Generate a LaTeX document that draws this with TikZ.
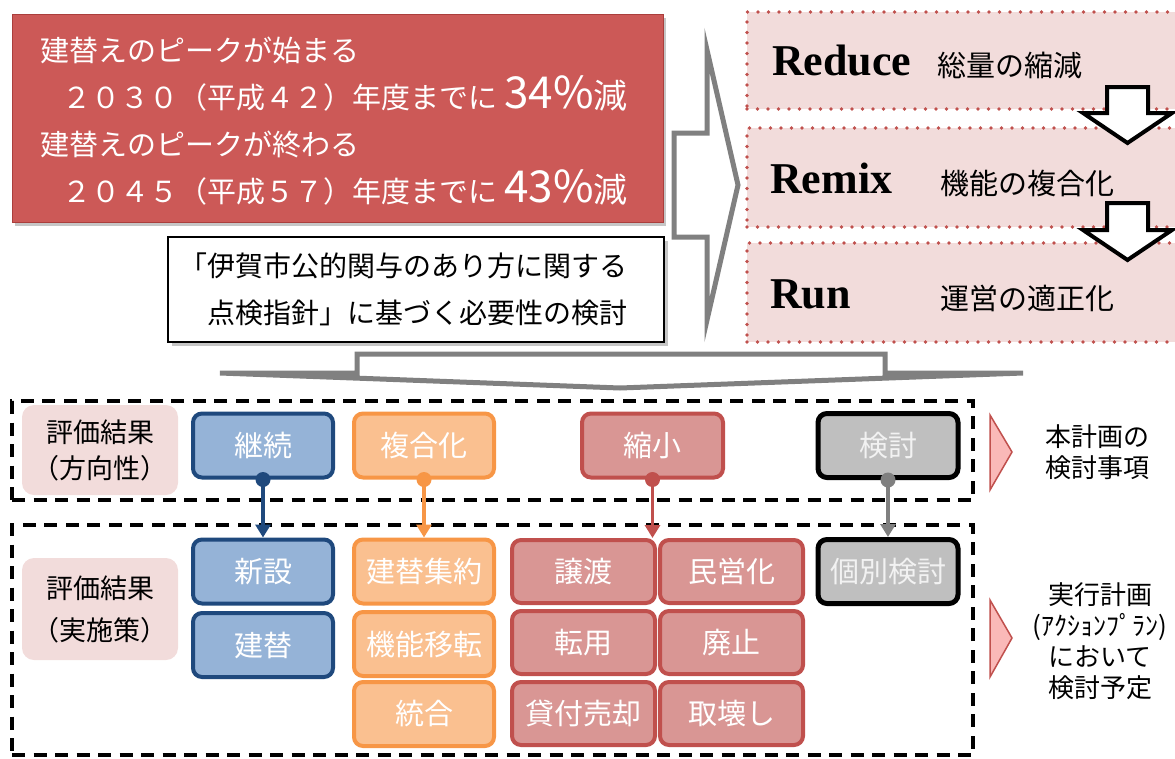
\documentclass[tikz,border=0pt]{standalone}
\usepackage{fontspec}
\newfontfamily\cjk{Noto Sans CJK JP}
\newfontfamily\rserif{Liberation Serif}
\usetikzlibrary{shadows,arrows.meta}
\definecolor{redbox}{RGB}{204,89,87}
\definecolor{redboxedge}{RGB}{170,62,60}
\definecolor{pinkbg}{RGB}{242,220,219}
\definecolor{dotred}{RGB}{192,80,77}
\definecolor{bluefill}{RGB}{149,179,215}
\definecolor{blueline}{RGB}{31,73,125}
\definecolor{orfill}{RGB}{250,192,144}
\definecolor{orline}{RGB}{247,150,70}
\definecolor{rdfill}{RGB}{217,150,148}
\definecolor{rdline}{RGB}{192,80,77}
\definecolor{gyfill}{RGB}{191,191,191}
\definecolor{gyline}{RGB}{128,128,128}
\definecolor{gytext}{RGB}{242,242,242}
\definecolor{trifill}{RGB}{250,185,184}
\begin{document}
\begin{tikzpicture}[x=1pt,y=-1pt,
  cbox/.style={rounded corners=9pt, line width=4pt, minimum width=140pt, minimum height=64pt,
    inner sep=0pt, text=white, font=\cjk\fontsize{29}{34}\selectfont},
  bluebox/.style={cbox, draw=blueline, fill=bluefill},
  orbox/.style={cbox, draw=orline, fill=orfill},
  rdbox/.style={cbox, draw=rdline, fill=rdfill, minimum width=143pt, minimum height=63pt},
  gybox/.style={cbox, draw=black, fill=gyfill, line width=5pt, text=gytext},
  lblbox/.style={rounded corners=12pt, fill=pinkbg, minimum width=156pt, align=center, inner sep=0pt},
  dashframe/.style={draw=black, line width=3.5pt, dash pattern=on 13pt off 8.5pt, minimum width=961pt, inner sep=0pt},
  dotbox/.style={draw=dotred, fill=pinkbg, line width=3.8pt, dash pattern=on 0pt off 10.5pt, line cap=round, minimum width=440pt, inner sep=0pt},
  rword/.style={anchor=base west, inner sep=0pt, font=\rserif\bfseries\fontsize{44}{50}\selectfont},
  jword/.style={anchor=west, inner sep=0pt, font=\cjk\fontsize{29}{34}\selectfont},
  grayarrow/.style={draw=gyline, fill=white, line width=5pt, line join=miter},
  whitearrow/.style={draw=black, fill=white, line width=4pt, line join=miter},
  conn/.style={line width=3.5pt, -{Triangle[length=13pt,width=15pt]}},
  tri/.style={draw=dotred, fill=trifill, line width=1.5pt, line join=miter},
  sidetext/.style={align=center, inner sep=0pt, font=\cjk\fontsize{26}{31}\selectfont}
]
\useasboundingbox (0,0) rectangle (1175,758);

% top-left red box
\node[draw=redboxedge, fill=redbox, line width=1pt, minimum width=651pt, minimum height=208pt,
  drop shadow={shadow xshift=3pt, shadow yshift=-4pt, opacity=0.45}] (peakbox) at (337.5,118) {};
\node[anchor=west, inner sep=0pt, align=left, text=white, font=\cjk\fontsize{29}{47}\selectfont] (peaktext) at (40,121)
 {建替えのピークが始まる\\
  \hspace*{22pt}２０３０（平成４２）年度までに\hspace{7pt}{\fontsize{44}{47}\selectfont 34\%}{\fontsize{34}{47}\selectfont 減}\\
  建替えのピークが終わる\\
  \hspace*{22pt}２０４５（平成５７）年度までに\hspace{7pt}{\fontsize{44}{47}\selectfont 43\%}{\fontsize{34}{47}\selectfont 減}};

% white box
\node[draw=black, fill=white, line width=2.5pt, minimum width=496pt, minimum height=105pt,
  text width=474pt, inner xsep=11pt, align=left, font=\cjk\fontsize{28}{47}\selectfont,
  drop shadow={shadow xshift=4pt, shadow yshift=-4pt, opacity=0.45}] (shishin) at (416,289.5)
 {「伊賀市公的関与のあり方に関する\\　点検指針」に基づく必要性の検討};

% big right arrow
\draw[grayarrow] (674,133) -- (707,133) -- (707,50) -- (738,185) -- (707,320) -- (707,237) -- (674,237) -- cycle;

% dotted boxes
\node[dotbox, minimum height=97pt] (reducebox) at (967,60.5) {};
\node[dotbox, minimum height=99pt] (remixbox) at (967,177.5) {};
\node[dotbox, minimum height=99pt] (runbox) at (967,292.5) {};

\node[rword] (reduce) at (772,75) {Reduce};
\node[jword] (reducej) at (937,65) {総量の縮減};
\node[rword] (remix) at (770,193) {Remix};
\node[jword] (remixj) at (940,183) {機能の複合化};
\node[rword] (run) at (770,308) {Run};
\node[jword] (runj) at (940,298) {運営の適正化};

% small down arrows
\draw[whitearrow] (1107,87) -- (1148,87) -- (1148,113) -- (1172,113) -- (1127.5,143) -- (1083,113) -- (1107,113) -- cycle;
\draw[whitearrow] (1107,203) -- (1148,203) -- (1148,230) -- (1172,230) -- (1127.5,260) -- (1083,230) -- (1107,230) -- cycle;

% wide down arrow
\draw[grayarrow] (357,354) -- (885,354) -- (885,373) -- (1023,373) -- (620,388) -- (220,373) -- (357,373) -- cycle;

% dashed frames
\node[dashframe, minimum height=99pt] (frameA) at (492.5,450.5) {};
\node[dashframe, minimum height=230pt] (frameB) at (492.5,640) {};

% labels
\node[lblbox, minimum height=90pt, font=\cjk\fontsize{27}{36}\selectfont] (lblA) at (100,450) {評価結果\\（方向性）};
\node[lblbox, minimum height=102pt, font=\cjk\fontsize{27}{42}\selectfont] (lblB) at (100,609) {評価結果\\（実施策）};

% direction boxes
\node[bluebox] (keizoku) at (263,445.5) {継続};
\node[orbox] (fukugo) at (424,445.5) {複合化};
\node[rdbox, minimum width=141pt, minimum height=64pt] (shuku) at (652.5,445.5) {縮小};
\node[gybox] (kento) at (888,445.5) {検討};

% measure boxes
\node[bluebox] (shinsetsu) at (263,571.5) {新設};
\node[bluebox] (tatekae) at (263,645) {建替};
\node[orbox] (shuyaku) at (424,571.5) {建替集約};
\node[orbox] (iten) at (424,644) {機能移転};
\node[orbox] (togo) at (424,714) {統合};
\node[rdbox] (joto) at (583.5,571.5) {譲渡};
\node[rdbox] (minei) at (731.5,571.5) {民営化};
\node[rdbox] (tenyo) at (583.5,642.5) {転用};
\node[rdbox] (haishi) at (731.5,642.5) {廃止};
\node[rdbox] (kashi) at (583.5,713.5) {貸付売却};
\node[rdbox] (torikowashi) at (731.5,713.5) {取壊し};
\node[gybox] (kobetsu) at (888,571.5) {個別検討};

% connectors
\draw[conn, blueline] (keizoku.south) -- (shinsetsu.north);
\fill[blueline] (keizoku.south) circle[radius=7.5pt];
\draw[conn, orline] (fukugo.south) -- (shuyaku.north);
\fill[orline] (fukugo.south) circle[radius=7.5pt];
\draw[conn, rdline] (shuku.south) -- (shuku.south |- joto.north);
\fill[rdline] (shuku.south) circle[radius=7.5pt];
\draw[conn, gyline] (kento.south) -- (kobetsu.north);
\fill[gyline] (kento.south) circle[radius=7.5pt];

% side triangles and texts
\draw[tri] (990,415) -- (1012,452) -- (990,490) -- cycle;
\draw[tri] (990,600) -- (1012,638) -- (990,677) -- cycle;
\node[sidetext] (honkeikaku) at (1097,452) {本計画の\\検討事項};
\node[sidetext] (jikko) at (1100,641.5) {実行計画\\(ｱｸｼｮﾝﾌﾟﾗﾝ)\\において\\検討予定};
\end{tikzpicture}
\end{document}
